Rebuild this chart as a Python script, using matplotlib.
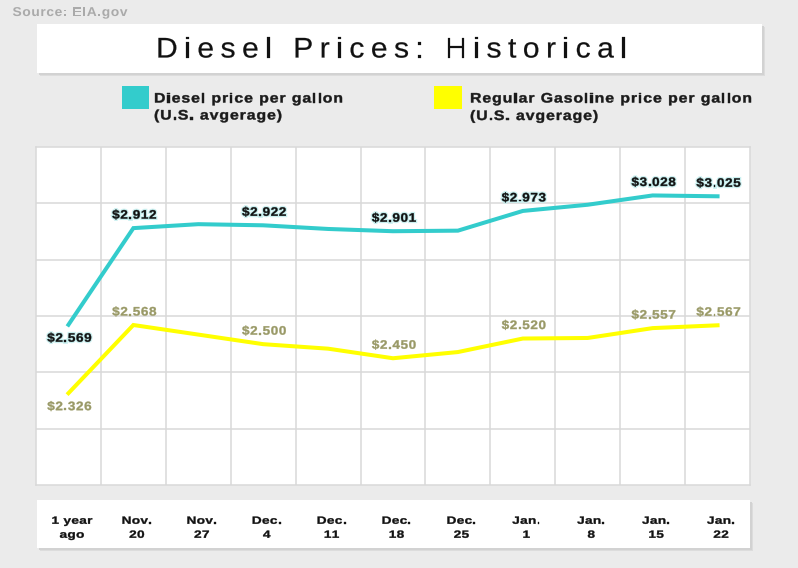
import matplotlib
matplotlib.use("Agg")
import matplotlib.pyplot as plt
from matplotlib.patches import Rectangle, PathPatch
from matplotlib.font_manager import FontProperties
from matplotlib.textpath import TextPath, text_to_path
from matplotlib.transforms import Affine2D

# ---- data ----
x_labels = ["1 year\nago", "Nov.\n20", "Nov.\n27", "Dec.\n4", "Dec.\n11", "Dec.\n18",
            "Dec.\n25", "Jan.\n1", "Jan.\n8", "Jan.\n15", "Jan.\n22"]
diesel = [2.569, 2.912, 2.926, 2.922, 2.909, 2.901, 2.903, 2.973, 2.995, 3.028, 3.025]
gasoline = [2.326, 2.568, 2.534, 2.500, 2.484, 2.450, 2.472, 2.520, 2.522, 2.557, 2.567]
diesel_labeled = [0, 1, 3, 5, 7, 9, 10]
gas_labeled = [0, 1, 3, 5, 7, 9, 10]
title = "Diesel Prices: Historical"
legend_diesel = ["Diesel price per gallon", "(U.S. avgerage)"]
legend_gas = ["Regular Gasoline price per gallon", "(U.S. avgerage)"]
source = "Source: EIA.gov"

W, H = 798, 568
BG = "#ebebeb"
CYAN = "#33cccc"
YEL = "#ffff00"
OLIVE = "#999966"
GRID = "#d9d9d9"
FONT = "Liberation Sans"

fig = plt.figure(figsize=(W / 100, H / 100), dpi=100, facecolor=BG)


def fx(px):
    return px / W


def fy(py):
    return 1 - py / H


def box(x0, y0, x1, y1, shadow=True):
    if shadow:
        for k, c in enumerate(["#dcdcdc", "#d2d2d2"]):
            d = 3 - k
            fig.patches.append(Rectangle((fx(x0 + d), fy(y1 + d)), fx(x1 - x0), (y1 - y0) / H,
                                         transform=fig.transFigure, facecolor=c,
                                         edgecolor="none", zorder=0))
    fig.patches.append(Rectangle((fx(x0), fy(y1)), fx(x1 - x0), (y1 - y0) / H,
                                 transform=fig.transFigure, facecolor="white",
                                 edgecolor="none", zorder=1))


def _w(s, prop):
    return text_to_path.get_text_width_height_descent(s, prop, ismath=False)[0]


def _adv(ch, prop):
    # advance width of ch: ink width of "HchH" minus "HH"
    return _w("H" + ch + "H", prop) - _w("HH", prop)


def draw_text(s, x, ybase, size, color, bold=False, ha="left", sx=1.0, track=0.0,
              width=None, fit="track", halo=None, z=6, ydisp=False, stroke=0.0):
    """Draw text in pixel coords (y from top unless ydisp) with tracking/stretch."""
    prop = FontProperties(family=FONT, weight="bold" if bold else "normal", size=size)
    raw = [_adv(c, prop) for c in s]
    if width is not None:
        if fit == "track":
            track = (width - sum(raw) * sx) / max(len(s) - 1, 1)
        else:
            sx = (width - track * (len(s) - 1)) / sum(raw)
    advs = [a * sx for a in raw]
    total = sum(advs) + track * (len(s) - 1)
    if ha == "center":
        x = x - total / 2
    elif ha == "right":
        x = x - total
    yb = ybase if ydisp else H - ybase
    cur = x
    for c, a in zip(s, advs):
        if c != " ":
            path = TextPath((0, 0), c, size=size, prop=prop)
            tr = Affine2D().scale(sx, 1).translate(cur, yb)
            if halo is not None:
                hp = PathPatch(path, transform=tr, facecolor=halo, edgecolor=halo,
                               linewidth=2.0, zorder=z - 0.5, alpha=0.9)
                fig.add_artist(hp)
            p = PathPatch(path, transform=tr, facecolor=color,
                          edgecolor=color if stroke > 0 else "none",
                          linewidth=stroke, zorder=z)
            fig.add_artist(p)
        cur += a + track
    return sx, track


# source
draw_text(source, 12.5, 16, 12.8, "#aaaaaa", bold=True, width=115, fit="stretch", track=0.6)

# title box
box(37, 24, 762, 72.5)
draw_text(title, 156, 57.5, 28.4, "#111111", sx=1.06, width=471, fit="track", stroke=0.15)

# legend
fig.patches.append(Rectangle((fx(122), fy(108.5)), fx(26.5), 22.5 / H, transform=fig.transFigure,
                             facecolor=CYAN, edgecolor="none"))
sx, t = draw_text(legend_diesel[0], 154, 102.5, 13.7, "#1a1a1a", bold=True, width=189,
                  fit="stretch", track=0.9, stroke=0.3)
draw_text(legend_diesel[1], 154, 119.5, 13.7, "#1a1a1a", bold=True, sx=sx, track=t, stroke=0.3)
fig.patches.append(Rectangle((fx(433.7), fy(109)), fx(28), 23.3 / H, transform=fig.transFigure,
                             facecolor=YEL, edgecolor="none"))
sx, t = draw_text(legend_gas[0], 470, 102.5, 13.7, "#1a1a1a", bold=True, width=282,
                  fit="stretch", track=0.9, stroke=0.3)
draw_text(legend_gas[1], 470, 120, 13.7, "#1a1a1a", bold=True, sx=sx, track=t, stroke=0.3)

# plot area
ax = fig.add_axes([fx(36), fy(485), fx(750 - 36), (485 - 147) / H])
ax.set_facecolor("white")
n = len(x_labels)
xs = list(range(n))
ax.set_xlim(-0.5, n - 0.5)
ax.set_ylim(2.0, 3.2)
ax.set_xticks([i + 0.5 for i in range(n - 1)])
ax.set_yticks([2.2, 2.4, 2.6, 2.8, 3.0])
ax.grid(True, color=GRID, linewidth=1.1)
ax.tick_params(length=0, labelbottom=False, labelleft=False)
for s in ax.spines.values():
    s.set_color(GRID)
    s.set_linewidth(1.1)

ax.plot(xs, diesel, color=CYAN, linewidth=2.9, solid_joinstyle="miter", zorder=3)
ax.plot(xs, gasoline, color=YEL, linewidth=2.9, solid_joinstyle="miter", zorder=3)

for i in diesel_labeled:
    px, py = ax.transData.transform((xs[i], diesel[i]))
    base = py - 17 if i == 0 else py + 9.5
    draw_text(f"${diesel[i]:.3f}", px + 1, base, 12.3, "#111111", bold=True, ha="center",
              sx=1.1, track=0.6, halo="#c6efef", ydisp=True, stroke=0.25)
for i in gas_labeled:
    px, py = ax.transData.transform((xs[i], gasoline[i]))
    base = py - 17 if i == 0 else py + 9.5
    draw_text(f"${gasoline[i]:.3f}", px + 1, base, 12.3, OLIVE, bold=True, ha="center",
              sx=1.1, track=0.6, ydisp=True, stroke=0.25)

# bottom label box
box(36.7, 499.7, 750, 548)
for i, lab in enumerate(x_labels):
    cx = 36 + (750 - 36) * (i + 0.5) / n + 3.5
    l1, l2 = lab.split("\n")
    draw_text(l1, cx, 523.8, 10.5, "#111111", bold=True, ha="center", sx=1.3, track=0.3,
              stroke=0.25)
    draw_text(l2, cx, 537.8, 10.5, "#111111", bold=True, ha="center", sx=1.3, track=0.3,
              stroke=0.25)

fig.savefig("out.png", dpi=100, facecolor=BG)
